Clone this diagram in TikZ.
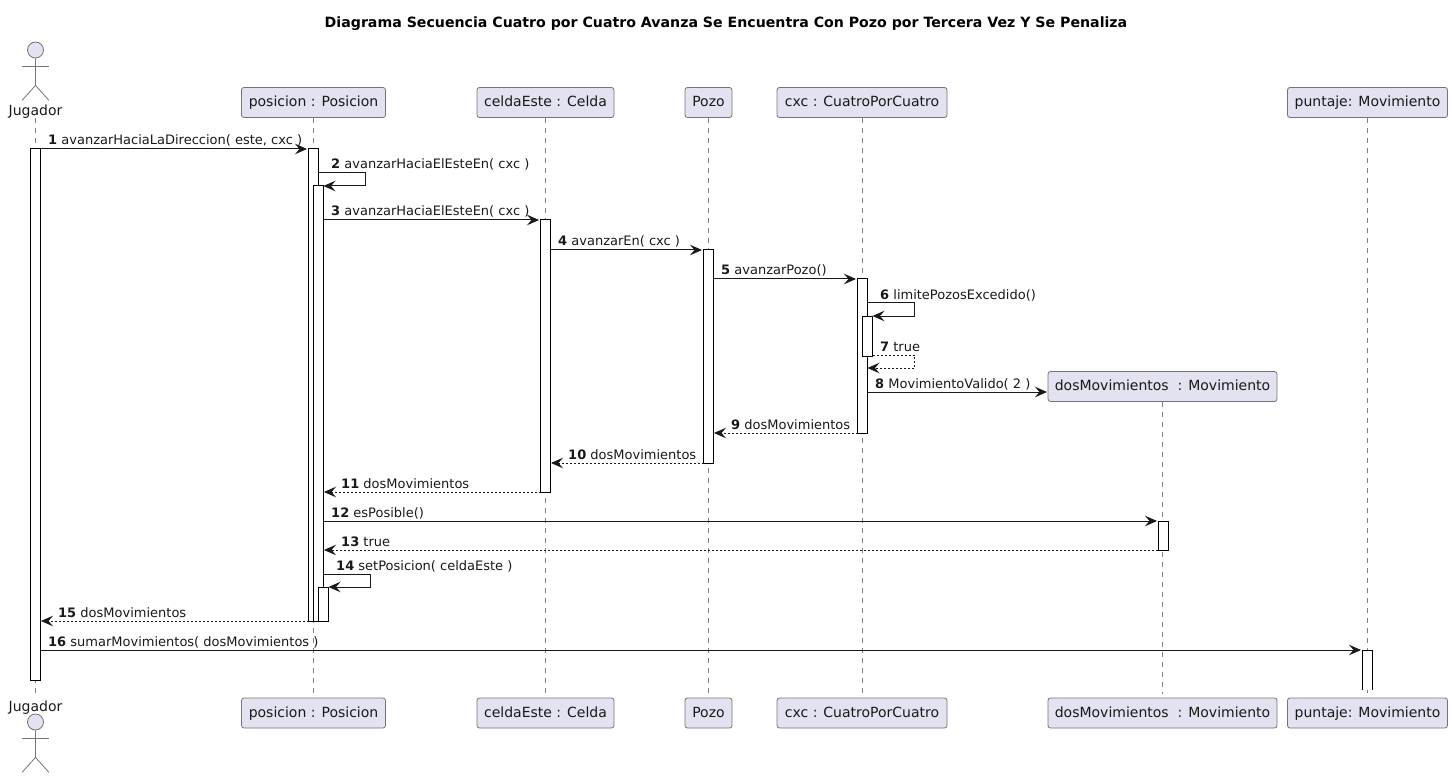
\documentclass[tikz,border=0pt]{standalone}
\usepackage{fontspec}
\setmainfont{DejaVu Sans}
\usetikzlibrary{arrows.meta}

\definecolor{boxfill}{HTML}{E2E2F0}
\definecolor{boxline}{HTML}{181818}

\tikzset{
  participant/.style = {draw = boxline!60, line width = 0.8pt, fill = boxfill,
    rounded corners = 2.5pt, minimum height = 30pt, inner xsep = 0pt, inner ysep = 0pt,
    text height = 11pt, text depth = 3pt,
    font = \fontsize{14}{16}\selectfont, text = black!90},
  actorname/.style = {font = \fontsize{14}{16}\selectfont, inner sep = 0pt, text = black!90},
  actorline/.style = {draw = boxline!60, line width = 0.8pt},
  lifeline/.style = {draw = boxline!55, line width = 0.8pt, dash pattern = on 5pt off 5pt, shorten > = 4pt},
  activation/.style = {draw = black, line width = 1pt, fill = white},
  msg/.style = {draw = black!90, line width = 1pt, -{Stealth[length = 12pt, width = 10.5pt, inset = 4.5pt]}},
  reply/.style = {msg, dash pattern = on 2pt off 2pt},
  msglabel/.style = {anchor = base west, inner sep = 0pt, font = \fontsize{13}{15}\selectfont, text = black!90},
}

\begin{document}
\begin{tikzpicture}[x = 1pt, y = -1pt]

  \useasboundingbox (0, 0) rectangle (1452, 778);

  \node[font = \bfseries\fontsize{14.15}{16}\selectfont, inner sep = 0pt] (title) at (726, 23.5)
    {Diagrama Secuencia Cuatro por Cuatro Avanza Se Encuentra Con Pozo por Tercera Vez Y Se Penaliza};

  \foreach \name/\x/\w/\txt in {
    posicion/313.5/144/{posicion : Posicion},
    celda/545.5/137/{celdaEste : Celda},
    pozo/708.5/47/{Pozo},
    cxc/862/170/{cxc : CuatroPorCuatro},
    puntaje/1367.5/160/{puntaje: Movimiento}
  } {
    \node[participant, minimum width = \w pt] (\name) at (\x, 102.5) {\txt};
    \node[participant, minimum width = \w pt] (\name B) at (\x, 713) {\txt};
  }
  \node[participant, minimum width = 229pt] (dosmov) at (1162.5, 386.5) {dosMovimientos\ \ : Movimiento};
  \node[participant, minimum width = 229pt] (dosmovB) at (1162.5, 713) {dosMovimientos\ \ : Movimiento};

  % actor
  \node[actorname] (jugador) at (35.5, 111.5) {Jugador};
  \node[actorname] (jugadorB) at (35.5, 707.5) {Jugador};
  \foreach \y [count = \i from 1] in {50, 722} {
    \node[actorline, fill = boxfill, circle, minimum size = 16pt, inner sep = 0pt] (head\i) at (35.5, \y) {};
    \draw[actorline] (head\i.south) -- ++(0, 27) -- ++(-13.5, 15);
    \draw[actorline] (head\i.south) ++(0, 27) -- ++(13.5, 15);
    \draw[actorline] (head\i.south) ++(-13.5, 8) -- ++(27, 0);
  }

  \foreach \name in {jugador, posicion, celda, pozo, cxc, dosmov, puntaje} {
    \draw[lifeline] (\name.south) -- (\name B.north);
  }

  % activations
  \foreach \x/\ya/\yb in {
    35.5/149/680, 313.5/149/621, 318.5/186/621, 323.5/587/621,
    545.5/220/492, 708.5/250/463, 862.5/279/433, 867.5/316/356, 1163/521/550
  } {
    \draw[activation] (\x - 5, \ya) rectangle (\x + 5, \yb);
  }
  \fill[white] (1362.5, 650) rectangle (1372.5, 690);
  \draw[activation] (1362.5, 690) -- (1362.5, 650) -- (1372.5, 650) -- (1372.5, 690);

  % straight messages
  \foreach \n/\st/\xa/\xb/\y/\lx/\txt in {
    1/msg/40.5/307/149/48/{avanzarHaciaLaDireccion( este, cxc )},
    3/msg/323.5/539/220/331/{avanzarHaciaElEsteEn( cxc )},
    4/msg/550.5/702/250/558/{avanzarEn( cxc )},
    5/msg/713.5/856/279/721/{avanzarPozo()},
    8/msg/867.5/1047/392/875/{MovimientoValido( 2 )},
    9/reply/857.5/714/433/731/{dosMovimientos},
    10/reply/703.5/551/463/568/{dosMovimientos},
    11/reply/540.5/324/492/341/{dosMovimientos},
    12/msg/323.5/1157/521/331/{esPosible()},
    13/reply/1158/324/550/341/{true},
    15/reply/308.5/41/621/58/{dosMovimientos},
    16/msg/40.5/1361/650/48/{sumarMovimientos( dosMovimientos )}
  } {
    \coordinate (from\n) at (\xa, \y);
    \coordinate (to\n) at (\xb, \y);
    \draw[\st] (from\n) -- (to\n);
    \node[msglabel] (label\n) at (\lx, \y - 4) {\textbf{\n} \txt};
  }

  % self messages
  \foreach \n/\st/\xa/\xb/\xc/\ya/\yb/\lx/\txt in {
    2/msg/318.5/365.5/323.5/173/186/331/{avanzarHaciaElEsteEn( cxc )},
    6/msg/867.5/914.5/872.5/303/316/880/{limitePozosExcedido()},
    7/reply/872.5/914.5/867.5/355/368/880/{true},
    14/msg/323.5/370.5/328.5/574/587/336/{setPosicion( celdaEste )}
  } {
    \coordinate (from\n) at (\xa, \ya);
    \coordinate (to\n) at (\xc, \yb);
    \draw[\st] (from\n) -- (\xb, \ya) -- (\xb, \yb) -- (to\n);
    \node[msglabel] (label\n) at (\lx, \ya - 4) {\textbf{\n} \txt};
  }

\end{tikzpicture}
\end{document}
